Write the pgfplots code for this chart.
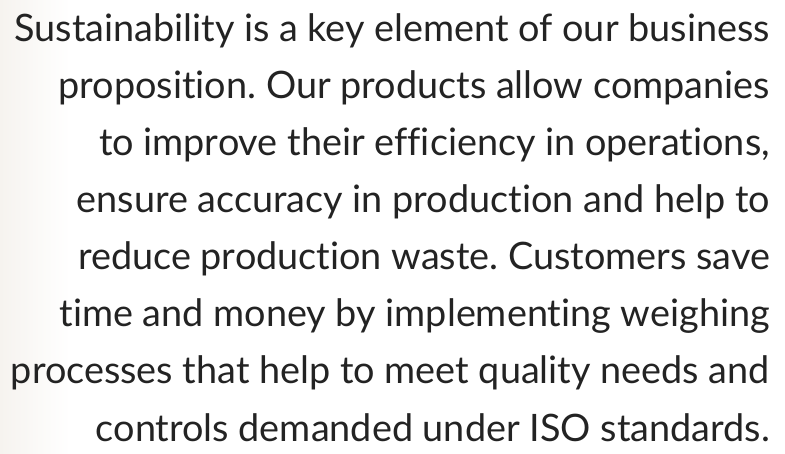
\documentclass[border=0pt]{standalone}
\usepackage{pgfplots}
\pgfplotsset{compat=1.18}
\usepackage{fontspec}
\setmainfont[Ligatures=NoCommon]{Lato}
\frenchspacing
\definecolor{txt}{HTML}{232323}
\definecolor{edge}{HTML}{F6F3EF}
\tikzset{ln/.style={anchor=base east, inner sep=0pt, text=txt}}
\newcommand\F{\fontsize{37.8}{40}\selectfont}
\begin{document}
\begin{tikzpicture}
\begin{axis}[
  width=785pt, height=454pt, scale only axis,
  xmin=0, xmax=785, ymin=0, ymax=454, y dir=reverse,
  hide axis, clip=false,
]
\fill[white] (axis cs:0,0) rectangle (axis cs:785,454);
\shade[left color=edge, right color=white] (axis cs:0,0) rectangle (axis cs:70,454);
\node[ln] at (axis cs:770,42) {\F Sustainability is a key element of our business};
\node[ln] at (axis cs:770,99) {\F proposition. Our products allow companies};
\node[ln] at (axis cs:770,156) {\F to improve their efficiency in operations,};
\node[ln] at (axis cs:770,213) {\F ensure accuracy in production and help to};
\node[ln] at (axis cs:770,270) {\F reduce production waste. Customers save};
\node[ln] at (axis cs:770,327) {\F time and money by implementing weighing};
\node[ln] at (axis cs:770,384) {\F processes that help to meet quality needs and};
\node[ln] at (axis cs:770,441) {\F controls demanded under ISO standards.};
\end{axis}
\end{tikzpicture}
\end{document}
